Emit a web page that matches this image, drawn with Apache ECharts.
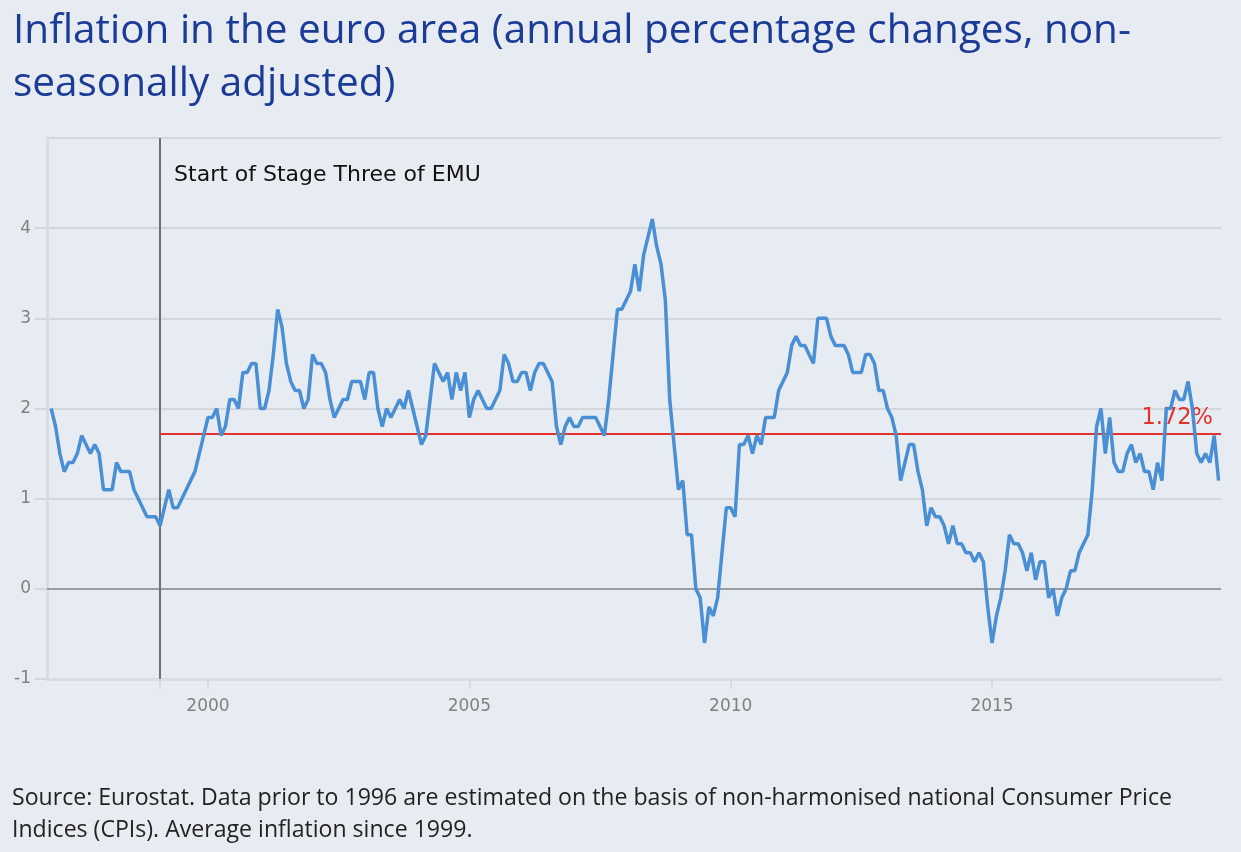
<!DOCTYPE html>
<html>
<head>
<meta charset="utf-8">
<script src="https://cdn.jsdelivr.net/npm/echarts@6/dist/echarts.min.js"></script>
<style>
html,body{margin:0;padding:0;background:#e7ecf3;}
#chart{width:1241px;height:852px;}
</style>
</head>
<body>
<div id="chart"></div>
<script>
// ---- data (monthly HICP annual rate, Jan 1997 - May 2019) ----
const firstYear = 1997;
const y1997 = [2.0, 1.8, 1.5, 1.3, 1.4, 1.4, 1.5, 1.7, 1.6, 1.5, 1.6, 1.5];
const y1998 = [1.1, 1.1, 1.1, 1.4, 1.3, 1.3, 1.3, 1.1, 1.0, 0.9, 0.8, 0.8];
const y1999 = [0.8, 0.7, 0.9, 1.1, 0.9, 0.9, 1.0, 1.1, 1.2, 1.3, 1.5, 1.7];
const y2000 = [1.9, 1.9, 2.0, 1.7, 1.8, 2.1, 2.1, 2.0, 2.4, 2.4, 2.5, 2.5];
const y2001 = [2.0, 2.0, 2.2, 2.6, 3.1, 2.9, 2.5, 2.3, 2.2, 2.2, 2.0, 2.1];
const y2002 = [2.6, 2.5, 2.5, 2.4, 2.1, 1.9, 2.0, 2.1, 2.1, 2.3, 2.3, 2.3];
const y2003 = [2.1, 2.4, 2.4, 2.0, 1.8, 2.0, 1.9, 2.0, 2.1, 2.0, 2.2, 2.0];
const y2004 = [1.8, 1.6, 1.7, 2.1, 2.5, 2.4, 2.3, 2.4, 2.1, 2.4, 2.2, 2.4];
const y2005 = [1.9, 2.1, 2.2, 2.1, 2.0, 2.0, 2.1, 2.2, 2.6, 2.5, 2.3, 2.3];
const y2006 = [2.4, 2.4, 2.2, 2.4, 2.5, 2.5, 2.4, 2.3, 1.8, 1.6, 1.8, 1.9];
const y2007 = [1.8, 1.8, 1.9, 1.9, 1.9, 1.9, 1.8, 1.7, 2.1, 2.6, 3.1, 3.1];
const y2008 = [3.2, 3.3, 3.6, 3.3, 3.7, 3.9, 4.1, 3.8, 3.6, 3.2, 2.1, 1.6];
const y2009 = [1.1, 1.2, 0.6, 0.6, 0.0, -0.1, -0.6, -0.2, -0.3, -0.1, 0.4, 0.9];
const y2010 = [0.9, 0.8, 1.6, 1.6, 1.7, 1.5, 1.7, 1.6, 1.9, 1.9, 1.9, 2.2];
const y2011 = [2.3, 2.4, 2.7, 2.8, 2.7, 2.7, 2.6, 2.5, 3.0, 3.0, 3.0, 2.8];
const y2012 = [2.7, 2.7, 2.7, 2.6, 2.4, 2.4, 2.4, 2.6, 2.6, 2.5, 2.2, 2.2];
const y2013 = [2.0, 1.9, 1.7, 1.2, 1.4, 1.6, 1.6, 1.3, 1.1, 0.7, 0.9, 0.8];
const y2014 = [0.8, 0.7, 0.5, 0.7, 0.5, 0.5, 0.4, 0.4, 0.3, 0.4, 0.3, -0.2];
const y2015 = [-0.6, -0.3, -0.1, 0.2, 0.6, 0.5, 0.5, 0.4, 0.2, 0.4, 0.1, 0.3];
const y2016 = [0.3, -0.1, 0.0, -0.3, -0.1, 0.0, 0.2, 0.2, 0.4, 0.5, 0.6, 1.1];
const y2017 = [1.8, 2.0, 1.5, 1.9, 1.4, 1.3, 1.3, 1.5, 1.6, 1.4, 1.5, 1.3];
const y2018 = [1.3, 1.1, 1.4, 1.2, 2.0, 2.0, 2.2, 2.1, 2.1, 2.3, 2.0, 1.5];
const y2019 = [1.4, 1.5, 1.4, 1.7, 1.2];

const xTickYears = [2000, 2005, 2010, 2015];
const yAxisMin = -1, yAxisMax = 5, yAxisStep = 1;
const emuStart = 1999 + 1 / 12;
const emuLabel = 'Start of Stage Three of EMU';
const averageSince1999 = 1.72;
const titleText = 'Inflation in the euro area (annual percentage changes, non-\nseasonally adjusted)';
const sourceText = 'Source: Eurostat. Data prior to 1996 are estimated on the basis of non-harmonised national Consumer Price\nIndices (CPIs). Average inflation since 1999.';

// ---- build ----
const monthly = [].concat(y1997, y1998, y1999, y2000, y2001, y2002, y2003, y2004, y2005,
  y2006, y2007, y2008, y2009, y2010, y2011, y2012, y2013, y2014, y2015, y2016, y2017, y2018, y2019);
const points = monthly.map((v, i) => [firstYear + i / 12, v]);
const xMin = 1996.92, xMax = 2019.38;
const FONT = 'DejaVu Sans';
const PAGE_FONT = 'Open Sans';

const chart = echarts.init(document.getElementById('chart'), null, {renderer: 'canvas'});
chart.setOption({
  animation: false,
  backgroundColor: '#e7ecf3',
  title: [
    {
      text: titleText, left: 8, top: 0,
      textStyle: {fontFamily: PAGE_FONT, fontSize: 40.5, fontWeight: 'normal', color: '#1c3b97', lineHeight: 53}
    },
    {
      text: sourceText, left: 7, top: 777,
      textStyle: {fontFamily: PAGE_FONT, fontSize: 23.1, fontWeight: 'normal', color: '#222222', lineHeight: 32}
    }
  ],
  grid: {left: 47, right: 20, top: 138, bottom: 173, containLabel: false},
  xAxis: {
    type: 'value', min: xMin, max: xMax,
    axisLine: {show: true, onZero: false, lineStyle: {color: '#dadcdf', width: 3}},
    axisTick: {show: true, customValues: [emuStart].concat(xTickYears), length: 10, lineStyle: {color: '#d8dadd', width: 2}},
    axisLabel: {customValues: xTickYears, formatter: v => String(Math.round(v)), color: '#808080',
      fontFamily: FONT, fontSize: 17, margin: 19},
    splitLine: {show: false}
  },
  yAxis: {
    type: 'value', min: yAxisMin, max: yAxisMax, interval: yAxisStep,
    axisLine: {show: true, onZero: false, lineStyle: {color: '#dadcdf', width: 3}},
    axisTick: {show: true, length: 12, lineStyle: {color: '#d3d6da', width: 2}},
    axisLabel: {color: '#808080', fontFamily: FONT, fontSize: 17, margin: 16, showMaxLabel: false},
    splitLine: {show: true, lineStyle: {color: '#d3d6da', width: 2}}
  },
  series: [{
    type: 'line',
    data: points,
    showSymbol: false,
    symbol: 'none',
    lineStyle: {color: '#4a8fd3', width: 3.5},
    z: 5,
    markLine: {
      silent: true, symbol: 'none', z: 3,
      data: [
        [{coord: [xMin, 0], lineStyle: {color: '#9a9ca0', width: 2, type: 'solid'}, label: {show: false}},
         {coord: [xMax, 0]}],
        [{coord: [emuStart, yAxisMin], lineStyle: {color: '#6f7073', width: 2, type: 'solid'}, label: {show: false}},
         {coord: [emuStart, yAxisMax]}],
        [{coord: [emuStart, averageSince1999], lineStyle: {color: '#e3322b', width: 2, type: 'solid'},
          label: {show: true, position: 'insideEndTop', formatter: averageSince1999.toFixed(2) + '%',
            color: '#e3322b', fontFamily: FONT, fontSize: 22.5, distance: [8, 4]}},
         {coord: [xMax, averageSince1999]}]
      ]
    },
    markPoint: {
      silent: true, symbol: 'circle', symbolSize: 0,
      data: [{coord: [emuStart, yAxisMax],
        label: {show: true, position: 'right', offset: [9, 37], formatter: emuLabel,
          color: '#111111', fontFamily: FONT, fontSize: 22}}]
    }
  }]
});
</script>
</body>
</html>
